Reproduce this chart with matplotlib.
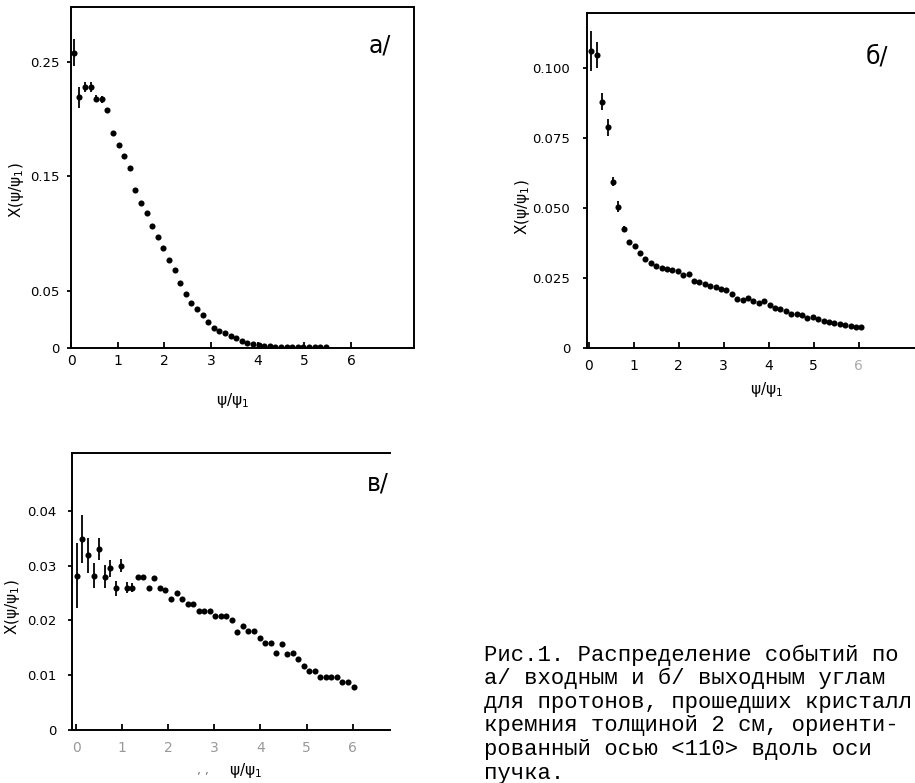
import numpy as np
import matplotlib as mpl
mpl.use('agg')
import matplotlib.pyplot as plt

plt.rcParams['font.family'] = ['DejaVu Sans']

# a/ - входные углы
a_x = [0.06, 0.18, 0.30, 0.42, 0.54, 0.66, 0.78, 0.90, 1.02, 1.14,
       1.26, 1.38, 1.50, 1.62, 1.74, 1.86, 1.98, 2.10, 2.22, 2.34,
       2.46, 2.58, 2.70, 2.82, 2.94, 3.06, 3.18, 3.30, 3.42, 3.54,
       3.66, 3.78, 3.90, 4.02, 4.14, 4.26, 4.38, 4.50, 4.62, 4.74,
       4.86, 4.98, 5.10, 5.22, 5.34, 5.46]
a_y = [0.258, 0.219, 0.228, 0.228, 0.218, 0.2175, 0.208, 0.188, 0.177, 0.168,
       0.157, 0.138, 0.127, 0.118, 0.107, 0.097, 0.087, 0.077, 0.068, 0.057,
       0.047, 0.039, 0.034, 0.029, 0.0224, 0.0177, 0.0151, 0.0127, 0.0104, 0.0083,
       0.0063, 0.0046, 0.0031, 0.0022, 0.0017, 0.0014, 0.0012, 0.0011, 0.0010, 0.0010,
       0.0009, 0.0009, 0.0008, 0.0008, 0.0008, 0.0007]
a_err = [0.012, 0.009, 0.004, 0.004, 0.003, 0.003, 0.002, 0.0015, 0.0015, 0.0015, 0.0015]

# б/ - выходные углы
b_x = [0.06, 0.18, 0.30, 0.42, 0.54, 0.66, 0.78, 0.90, 1.02, 1.14,
       1.26, 1.38, 1.50, 1.62, 1.74, 1.86, 1.98, 2.10, 2.22, 2.34,
       2.46, 2.58, 2.70, 2.82, 2.94, 3.06, 3.18, 3.30, 3.42, 3.54,
       3.66, 3.78, 3.90, 4.02, 4.14, 4.26, 4.38, 4.50, 4.62, 4.74,
       4.86, 4.98, 5.10, 5.22, 5.34, 5.46, 5.58, 5.70, 5.82, 5.94,
       6.06]
b_y = [0.106, 0.1046, 0.088, 0.0788, 0.0594, 0.0505, 0.0425, 0.038, 0.0365, 0.034,
       0.0317, 0.0305, 0.0292, 0.0285, 0.0282, 0.028, 0.0276, 0.0262, 0.0264, 0.024,
       0.0236, 0.0228, 0.022, 0.0216, 0.021, 0.0206, 0.0193, 0.0175, 0.0173, 0.0177,
       0.0168, 0.016, 0.0166, 0.0155, 0.0144, 0.0139, 0.0133, 0.0121, 0.012, 0.0118,
       0.0106, 0.0112, 0.0102, 0.0097, 0.0094, 0.009, 0.0086, 0.0082, 0.0077, 0.0074,
       0.0076]
b_err = [0.007, 0.0046, 0.003, 0.003, 0.0015, 0.0018, 0.001]

# в/
c_x = [0.02, 0.14, 0.26, 0.38, 0.50, 0.62, 0.74, 0.86, 0.98, 1.10,
       1.22, 1.34, 1.46, 1.58, 1.70, 1.82, 1.94, 2.06, 2.18, 2.30,
       2.42, 2.54, 2.66, 2.78, 2.90, 3.02, 3.14, 3.26, 3.38, 3.50,
       3.62, 3.74, 3.86, 3.98, 4.10, 4.22, 4.34, 4.46, 4.58, 4.70,
       4.82, 4.94, 5.06, 5.18, 5.30, 5.42, 5.54, 5.66, 5.78, 5.90,
       6.02]
c_y = [0.0282, 0.0349, 0.0319, 0.0282, 0.0330, 0.0280, 0.0295, 0.0259, 0.0300, 0.0260,
       0.0260, 0.0280, 0.0280, 0.0259, 0.0277, 0.0259, 0.0256, 0.0239, 0.0251, 0.0239,
       0.0230, 0.0230, 0.0218, 0.0218, 0.0218, 0.0208, 0.0208, 0.0208, 0.0200, 0.0179,
       0.0190, 0.0181, 0.0181, 0.0168, 0.0158, 0.0159, 0.0141, 0.0157, 0.0139, 0.0140,
       0.0129, 0.0117, 0.0107, 0.0108, 0.0097, 0.0097, 0.0097, 0.0097, 0.0088, 0.0088,
       0.0078]
c_err = [0.0059, 0.0044, 0.0032, 0.0023, 0.002, 0.0021, 0.0015, 0.0014, 0.0012, 0.001, 0.0008]

caption = ["Рис.1. Распределение событий по",
           "а/ входным и б/ выходным углам",
           "для протонов, прошедших кристалл",
           "кремния толщиной 2 см, ориенти-",
           "рованный осью <110> вдоль оси",
           "пучка."]

ylab = "X(ψ/ψ$_1$)"
xlab = "ψ/ψ$_1$"


def draw(ax, x, y, err, xlim, ylim, yticks, ylabels, xcolor='black', xpad=4, ypad=6):
    n = len(err)
    ax.errorbar(x[:n], y[:n], yerr=err, fmt='none', ecolor='black', elinewidth=1.3, capsize=0)
    ax.plot(x, y, 'o', color='black', markersize=4.4, markeredgewidth=0)
    ax.set_xlim(xlim)
    ax.set_ylim(ylim)
    ax.set_xticks([0, 1, 2, 3, 4, 5, 6])
    ax.set_xticklabels(['0', '1', '2', '3', '4', '5', '6'], color=xcolor)
    ax.set_yticks(yticks)
    ax.set_yticklabels(ylabels)
    ax.tick_params(axis='x', direction='in', length=4, width=1.3, labelsize=10, pad=xpad)
    ax.tick_params(axis='y', direction='out', length=3, width=1.3, labelsize=9.5, pad=ypad)
    for s in ax.spines.values():
        s.set_linewidth(1.4)


fig = plt.figure(figsize=(9.15, 7.83), dpi=100)

################ a/
ax1 = fig.add_axes([0.0776, 0.5556, 0.3749, 0.4355])
draw(ax1, a_x, a_y, a_err, (0, 7.35), (0, 0.298),
     [0, 0.05, 0.15, 0.25], ['0', '0.05', '0.15', '0.25'], xpad=4, ypad=5)
fig.text(0.415, 0.9425, "а/", fontsize=17, ha='center', va='center')
fig.text(0.2546, 0.489, xlab, fontsize=11, ha='center', va='center')
fig.text(0.0175, 0.757, ylab, fontsize=11, ha='center', va='center', rotation=90)

################ б/
ax2 = fig.add_axes([0.6415, 0.5556, 0.3639, 0.4278])
draw(ax2, b_x, b_y, b_err, (-0.04, 7.36), (0, 0.1196),
     [0, 0.025, 0.05, 0.075, 0.1], ['0', '0.025', '0.050', '0.075', '0.100'], xpad=8, ypad=9)
ax2.spines['right'].set_visible(False)
ax2.get_xticklabels()[-1].set_color('#aaaaaa')
fig.text(0.958, 0.928, "б/", fontsize=17, ha='center', va='center')
fig.text(0.838, 0.502, xlab, fontsize=11, ha='center', va='center')
fig.text(0.5705, 0.7356, ylab, fontsize=11, ha='center', va='center', rotation=90)

################ в/
ax3 = fig.add_axes([0.0787, 0.0677, 0.3475, 0.3538])
draw(ax3, c_x, c_y, c_err, (-0.087, 6.81), (0, 0.0506),
     [0, 0.01, 0.02, 0.03, 0.04], ['0', '0.01', '0.02', '0.03', '0.04'],
     xcolor='#999999', xpad=8, ypad=8)
ax3.spines['right'].set_visible(False)
fig.text(0.413, 0.383, "в/", fontsize=17, ha='center', va='center')
fig.text(0.268, 0.0166, xlab, fontsize=11, ha='center', va='center')
fig.text(0.222, 0.0166, "‚ ,", fontsize=9, color='#777777', ha='center', va='center')
fig.text(0.0135, 0.2248, ylab, fontsize=11, ha='center', va='center', rotation=90)

################ подпись
y0 = 0.1635
for i, line in enumerate(caption):
    fig.text(0.529, y0 - i * 0.0302, line, fontsize=16, ha='left', va='center',
             family=['Liberation Mono', 'DejaVu Sans Mono'])

plt.savefig("out.png", dpi=100)
plt.close()
